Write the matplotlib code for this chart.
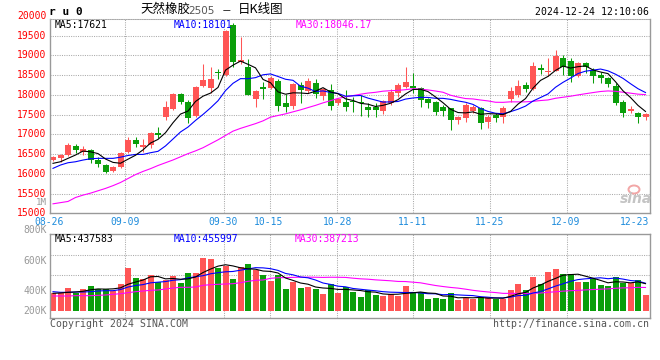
import numpy as np
import pandas as pd
import matplotlib
matplotlib.use('Agg')
import matplotlib.pyplot as plt
from matplotlib.transforms import blended_transform_factory
from matplotlib.patches import Ellipse

# ---------------- data ----------------
opens = np.array([16350, 16410, 16470, 16710, 16560, 16600, 16350, 16220, 16080, 16180,
                  16560, 16855, 16680, 16730, 17040, 17445, 17630, 18020, 17815, 17460,
                  18230, 18160, 18560, 18500, 19765, 18820, 18710, 17885, 18200, 18160,
                  18345, 17785, 17715, 18245, 18095, 18300, 17970, 18120, 17790, 17825,
                  17840, 17810, 17700, 17697, 17596, 17800, 18036, 18190, 18220, 18163,
                  17884, 17823, 17697, 17657, 17360, 17419, 17588, 17657, 17318, 17487,
                  17428, 17884, 17993, 18245, 18145, 18670, 18570, 18608, 18920, 18860,
                  18474, 18795, 18626, 18491, 18416, 18228, 17808, 17588, 17545, 17428], float)
highs = np.array([16450, 16500, 16775, 16750, 16700, 16627, 16430, 16250, 16200, 16560,
                  16920, 16920, 16870, 17065, 17190, 17840, 18035, 18050, 17880, 18220,
                  18780, 18710, 18650, 19650, 19807, 19460, 18896, 18120, 18330, 18480,
                  18390, 18018, 18290, 18330, 18430, 18395, 18180, 18270, 17915, 18120,
                  17940, 17990, 17780, 17800, 17880, 18140, 18290, 18710, 18557, 18203,
                  17909, 17841, 17740, 17672, 17460, 17783, 17740, 17697, 17487, 17530,
                  17714, 18188, 18372, 18330, 18836, 18790, 18920, 19130, 19000, 18920,
                  18836, 18836, 18669, 18582, 18441, 18289, 17866, 17714, 17570, 17530], float)
lows = np.array([16330, 16305, 16450, 16520, 16465, 16280, 16180, 16030, 16050, 16155,
                 16520, 16685, 16560, 16660, 16900, 17360, 17615, 17755, 17280, 17445,
                 18190, 18050, 18400, 18470, 18710, 18790, 17990, 17700, 17900, 18140,
                 17596, 17570, 17640, 17800, 18040, 17925, 17880, 17613, 17750, 17580,
                 17570, 17460, 17430, 17430, 17512, 17750, 17940, 18160, 18036, 17697,
                 17656, 17487, 17460, 17107, 17259, 17318, 17530, 17125, 17166, 17318,
                 17292, 17823, 17950, 18077, 18120, 18530, 18470, 18590, 18500, 18330,
                 18456, 18542, 18304, 18289, 18203, 17740, 17444, 17530, 17292, 17360], float)
closes = np.array([16430, 16475, 16730, 16610, 16630, 16340, 16250, 16045, 16180, 16520,
                   16855, 16745, 16730, 17040, 16985, 17700, 18010, 17825, 17420, 18200,
                   18370, 18400, 18540, 19610, 18835, 18880, 17995, 18095, 18140, 18420,
                   17720, 17700, 18270, 18120, 18345, 18020, 18150, 17720, 17900, 17700,
                   17815, 17785, 17610, 17613, 17841, 18077, 18245, 18330, 18180, 17866,
                   17783, 17570, 17596, 17360, 17444, 17740, 17697, 17292, 17444, 17403,
                   17657, 18094, 18220, 18145, 18727, 18635, 18600, 18980, 18695, 18475,
                   18811, 18694, 18474, 18431, 18271, 17783, 17545, 17630, 17428, 17505], float)
volumes_k = np.array([283, 283, 368, 293, 352, 400, 352, 352, 315, 432,
                      688, 528, 512, 576, 459, 496, 560, 448, 608, 608,
                      853, 837, 683, 720, 512, 704, 752, 656, 576, 480,
                      576, 352, 464, 368, 384, 352, 272, 432, 288, 384,
                      309, 224, 336, 256, 240, 272, 240, 400, 304, 304,
                      192, 208, 192, 288, 176, 208, 192, 224, 224, 192,
                      192, 336, 432, 336, 544, 432, 624, 672, 592, 592,
                      464, 464, 512, 416, 400, 544, 448, 443, 496, 256], float)
volumes = volumes_k * 1000

# moving-average values at the left edge (their windows start before the chart)
ma5_head = [16265, 16305, 16391, 16475]
ma10_head = [16138, 16222, 16280, 16305, 16348, 16381, 16391, 16391, 16391]
ma30_head = [15240, 15270, 15300, 15400, 15460, 15510, 15570, 15630, 15700, 15780,
             15880, 15980, 16060, 16130, 16210, 16280, 16350, 16430, 16510, 16580,
             16660, 16760, 16860, 16970, 17080, 17150, 17210, 17270, 17340]
vma5_head = [283e3, 288e3, 299e3, 304e3]
vma10_head = [309e3, 299e3, 299e3, 304e3, 304e3, 309e3, 320e3, 325e3, 325e3]
vma30_head = [v * 1000 for v in [240, 240, 240, 245, 245, 245, 251, 256, 267, 277,
                                 293, 309, 320, 331, 336, 352, 368, 379, 379, 384,
                                 411, 421, 427, 432, 437, 453, 475, 491, 496]]

price_ticks = [15000, 15500, 16000, 16500, 17000, 17500, 18000, 18500, 19000, 19500, 20000]
date_labels = ['08-26', '09-09', '09-30', '10-15', '10-28', '11-11', '11-25', '12-09', '12-23']
vol_labels = ['800K', '600K', '400K', '200K']
ma_price_txt = ['MA5:17621', 'MA10:18101', 'MA30:18046.17']
ma_vol_txt = ['MA5:437583', 'MA10:455997', 'MA30:387213']
symbol = 'r u 0'
title_name, title_code, title_kind = '天然橡胶', '2505', '日K线图'
stamp = '2024-12-24 12:10:06'

# ---------------- layout ----------------
W, H = 660, 360
RED, GREEN = '#FF5555', '#0A9E0A'
MONO = 'DejaVu Sans Mono'
CJK = ['Noto Sans CJK SC', 'DejaVu Sans']
GRIDC = '#AAAAAA'
FRAME = '#999999'
# date label / grid positions (in candle-index units, as placed in the reference)
date_pos = [-0.47, 9.63, 22.67, 28.8, 37.9, 48.0, 58.2, 68.4, 77.5]
grid_pos = [9.6, 22.8, 28.93, 37.87, 48.0, 58.27, 68.53]
vol_label_px = [230, 261, 291, 311]
VK = 16000.0  # volume per pixel


def fx(px):
    return px / W


def fy(py):
    return 1 - py / H


def rolling(values, n, head):
    s = pd.Series(values).rolling(n).mean().to_numpy()
    s[:len(head)] = head
    return s


fig = plt.figure(figsize=(6.6, 3.6), dpi=100)
ax = fig.add_axes([fx(50), fy(213.3), 600 / W, (213.3 - 19) / H])
axv = fig.add_axes([fx(50), fy(318.3), 600 / W, (318.3 - 234.3) / H])

idx = np.arange(len(closes))
up = closes >= opens
colors = np.where(up, RED, GREEN)

# ---- price panel ----
ax.set_xlim(-0.4, 79.6)
ax.set_ylim(15000, 15000 + (213.3 - 19) / 19.75 * 500)
ax.set_yticks(price_ticks[1:-1])
ax.set_xticks(grid_pos)
ax.grid(True, color=GRIDC, linestyle=(0, (1, 1.2)), linewidth=0.75)
ax.set_axisbelow(True)
ax.tick_params(length=0, labelleft=False, labelbottom=False)
for s in ['left', 'right', 'bottom']:
    ax.spines[s].set_color(FRAME)
    ax.spines[s].set_linewidth(1)
ax.spines['top'].set_color(GRIDC)
ax.spines['top'].set_linestyle((0, (1, 1.2)))
ax.spines['top'].set_linewidth(0.75)

ax.vlines(idx, lows, highs, colors=colors, linewidth=0.75, zorder=2)
body_bottom = np.minimum(opens, closes)
body_h = np.maximum(np.abs(closes - opens), 28)
ax.bar(idx, body_h, bottom=body_bottom, width=0.8, color=colors, linewidth=0, zorder=2)

ma5 = rolling(closes, 5, ma5_head)
ma10 = rolling(closes, 10, ma10_head)
ma30 = rolling(closes, 30, ma30_head)
ax.plot(idx, ma30, color='#FF00FF', linewidth=0.8, zorder=3)
ax.plot(idx, ma10, color='#0000FF', linewidth=0.8, zorder=3)
ax.plot(idx, ma5, color='black', linewidth=0.8, zorder=4)

tr_y = blended_transform_factory(fig.transFigure, ax.transData)
for v in price_ticks:
    ax.text(fx(46.5), v, str(v), transform=tr_y, ha='right', va='center', color='#FF0000',
            family=MONO, fontsize=7, clip_on=False)
fig.text(fx(46.5), fy(202.5), '1M', ha='right', va='center',
         color='#999999', family=MONO, fontsize=6.6)

tr_x = blended_transform_factory(ax.transData, fig.transFigure)
for lbl, p in zip(date_labels, date_pos):
    ax.text(p, fy(222), lbl, transform=tr_x, ha='center', va='center', color='#1E8CDC',
            family=MONO, fontsize=7, clip_on=False)

for t, x0, c in zip(ma_price_txt, [55, 174, 296], ['black', '#0000FF', '#FF00FF']):
    fig.text(fx(x0), fy(24.5), t, ha='left', va='center', color=c, family=MONO, fontsize=7)

# sina watermark
fig.text(fx(636), fy(199), 'sina', ha='center', va='center', color='#C4C4C4',
         fontsize=10, style='italic', weight='bold', family='DejaVu Sans')
fig.patches.append(Ellipse((fx(634), fy(189.5)), 11 / W, 8 / H, transform=fig.transFigure,
                           facecolor='none', edgecolor='#F2A6A6', linewidth=1.4))

# ---- volume panel ----
axv.set_xlim(-0.4, 79.6)
axv.set_ylim(-(318.3 - 311) * VK, (311 - 234.3) * VK)
axv.set_yticks([(311 - 255) * VK, (311 - 275) * VK])
axv.set_xticks(grid_pos)
axv.grid(True, color=GRIDC, linestyle=(0, (1, 1.2)), linewidth=0.75)
axv.set_axisbelow(True)
axv.tick_params(length=0, labelleft=False, labelbottom=False)
for s in axv.spines.values():
    s.set_color(FRAME)
    s.set_linewidth(1)
axv.bar(idx, volumes, width=0.8, color=colors, linewidth=0, zorder=2)
vma5 = rolling(volumes, 5, vma5_head)
vma10 = rolling(volumes, 10, vma10_head)
vma30 = rolling(volumes, 30, vma30_head)
axv.plot(idx, vma30, color='#FF00FF', linewidth=0.8, zorder=3)
axv.plot(idx, vma10, color='#0000FF', linewidth=0.8, zorder=3)
axv.plot(idx, vma5, color='black', linewidth=0.8, zorder=4)

for lbl, py in zip(vol_labels, vol_label_px):
    fig.text(fx(46.5), fy(py), lbl, ha='right', va='center', color='#999999', family=MONO, fontsize=7)
for t, x0, c in zip(ma_vol_txt, [55, 174, 295], ['black', '#0000FF', '#FF00FF']):
    fig.text(fx(x0), fy(238.5), t, ha='left', va='center', color=c, family=MONO, fontsize=7)

# ---- header & footer ----
fig.text(fx(49), fy(12), symbol, ha='left', va='center', family=MONO, fontweight='bold', fontsize=8)
fig.text(fx(140), fy(9.5), title_name, ha='left', va='center', family=CJK, fontsize=9)
fig.text(fx(188), fy(10.5), title_code, ha='left', va='center', family='DejaVu Sans', fontsize=7.5,
         color='#555555')
fig.text(fx(222), fy(10), '－', ha='left', va='center', family=CJK, fontsize=7)
fig.text(fx(238), fy(9.5), title_kind, ha='left', va='center', family=CJK, fontsize=9)
fig.text(fx(649), fy(12), stamp, ha='right', va='center', family=MONO, fontsize=7.1)
fig.text(fx(50), fy(324), 'Copyright 2024 SINA.COM', ha='left', va='center', family=MONO,
         fontsize=7.1, color='#555555')
fig.text(fx(649), fy(324), 'http://finance.sina.com.cn', ha='right', va='center', family=MONO,
         fontsize=7.1, color='#555555')

fig.savefig('out.png', dpi=100)
